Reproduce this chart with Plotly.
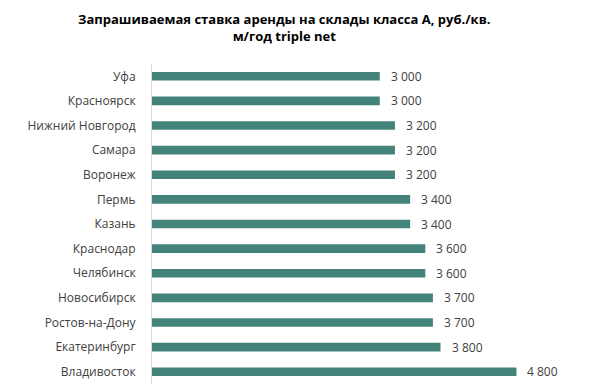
import plotly.graph_objects as go

cities = ["Уфа", "Красноярск", "Нижний Новгород", "Самара", "Воронеж", "Пермь", "Казань",
          "Краснодар", "Челябинск", "Новосибирск", "Ростов-на-Дону", "Екатеринбург", "Владивосток"]
values = [3000, 3000, 3200, 3200, 3200, 3400, 3400, 3600, 3600, 3700, 3700, 3800, 4800]
labels = [f"{v:,}".replace(",", " ") for v in values]

title = "Запрашиваемая ставка аренды на склады класса А, руб./кв.<br>м/год triple net"

fig = go.Figure(go.Bar(
    x=values, y=cities, orientation="h",
    marker=dict(color="#44837A", line=dict(width=0)),
    hoverinfo="skip",
))
for c, v, t in zip(cities, values, labels):
    fig.add_annotation(x=v, y=c, text=t, showarrow=False, xanchor="left", xshift=9,
                       font=dict(family="Open Sans", size=12, color="#404040"))

fig.add_annotation(text="<b>" + title + "</b>", xref="paper", yref="paper",
                   x=0.322, y=1.114, xanchor="center", yanchor="middle", showarrow=False,
                   font=dict(family="Open Sans", size=13, color="#000000"))

fig.update_layout(
    width=592, height=383,
    margin=dict(l=144, r=38, t=56, b=7),
    paper_bgcolor="white", plot_bgcolor="white",
    bargap=0.65,
    showlegend=False,
    font=dict(family="Open Sans", size=12, color="#404040"),
)
fig.update_xaxes(range=[0, 5400], visible=False)
fig.update_yaxes(autorange="reversed", showline=True, linecolor="#D9D9D9", linewidth=1,
                 ticks="", ticklabelstandoff=13, showgrid=False, automargin=False)
fig.write_html("out.html")
